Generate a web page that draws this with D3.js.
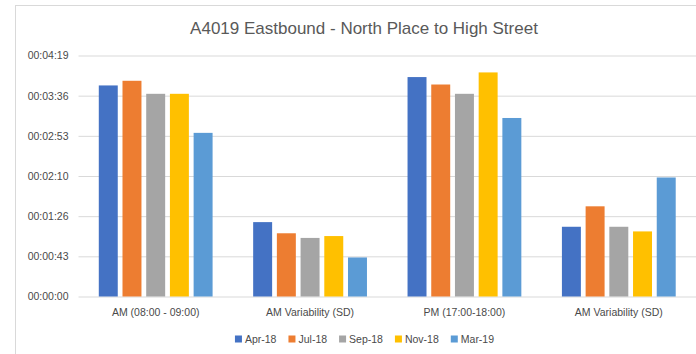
<!DOCTYPE html>
<html><head><meta charset="utf-8">
<script src="https://cdn.jsdelivr.net/npm/d3@7"></script>
<style>
html,body{margin:0;padding:0;background:#fff;}
svg{display:block;font-family:"Liberation Sans",Arial,sans-serif;}
</style></head>
<body><svg id="c" width="696" height="354"></svg>
<script>
const title = "A4019 Eastbound - North Place to High Street";
const categories = ["AM (08:00 - 09:00)", "AM Variability (SD)", "PM (17:00-18:00)", "AM Variability (SD)"];
const seriesNames = ["Apr-18", "Jul-18", "Sep-18", "Nov-18", "Mar-19"];
const colors = ["#4472C4", "#ED7D31", "#A5A5A5", "#FFC000", "#5B9BD5"];
// values in seconds, per series (one per category)
const apr18 = [227, 80, 236, 75];
const jul18 = [232, 68, 228, 97];
const sep18 = [218, 63, 218, 75];
const nov18 = [218, 65, 241, 70];
const mar19 = [176, 42, 192, 128];
const tickValues = [0, 43.2, 86.4, 129.6, 172.8, 216, 259.2];
const tickLabels = ["00:00:00", "00:00:43", "00:01:26", "00:02:10", "00:02:53", "00:03:36", "00:04:19"];

const seriesValues = [apr18, jul18, sep18, nov18, mar19];
const svg = d3.select("#c");
const textColor = "#4a4a4a";

// chart frame
svg.append("rect").attr("x", 15.5).attr("y", 5.5).attr("width", 700).attr("height", 360)
  .attr("fill", "none").attr("stroke", "#D9D9D9").attr("stroke-width", 1);

const plotLeft = 78.5, plotRight = 696, plotTop = 55.5, plotBottom = 296.5;
const y = d3.scaleLinear().domain([0, 259.2]).range([plotBottom, plotTop]);
const x0 = d3.scaleBand().domain(d3.range(categories.length)).range([plotLeft, plotRight]).padding(0);
const groupW = 113.8;
const x1 = d3.scaleBand().domain(d3.range(seriesNames.length)).range([0, groupW]).paddingInner(0.2).paddingOuter(0);

// title
svg.append("text").attr("x", 364).attr("y", 34).attr("text-anchor", "middle")
  .attr("font-size", 17).attr("fill", "#595959").text(title);

// y axis with gridlines
const yAxis = d3.axisLeft(y).tickValues(tickValues).tickFormat((d, i) => tickLabels[i])
  .tickSize(-(plotRight - plotLeft)).tickPadding(10);
const gy = svg.append("g").attr("transform", `translate(${plotLeft},0)`).call(yAxis);
gy.select(".domain").remove();
gy.selectAll(".tick line").attr("stroke", "#D9D9D9").attr("stroke-width", 1);
gy.selectAll(".tick text").attr("fill", textColor).attr("font-size", 10.5).attr("font-family", "Liberation Sans, Arial, sans-serif");

// bars
const groups = svg.append("g").selectAll("g").data(categories).join("g")
  .attr("transform", (d, i) => `translate(${x0(i) + (x0.bandwidth() - groupW) / 2},0)`);
groups.selectAll("rect").data((d, ci) => seriesValues.map((s, si) => ({si, v: s[ci]}))).join("rect")
  .attr("x", d => x1(d.si)).attr("width", x1.bandwidth())
  .attr("y", d => y(d.v)).attr("height", d => y(0) - y(d.v))
  .attr("fill", d => colors[d.si]);

// category labels
const xAxis = d3.axisBottom(x0).tickFormat(i => categories[i]).tickSize(0).tickPadding(12);
const gx = svg.append("g").attr("transform", `translate(0,${plotBottom})`).call(xAxis);
gx.select(".domain").remove();
gx.selectAll(".tick text").attr("fill", textColor).attr("font-size", 10.5).attr("font-family", "Liberation Sans, Arial, sans-serif");

// legend
const leg = svg.append("g");
let cx = 0;
seriesNames.forEach((n, i) => {
  const g = leg.append("g").attr("transform", `translate(${cx},0)`);
  g.append("rect").attr("x", 0).attr("y", -7).attr("width", 7).attr("height", 7).attr("fill", colors[i]);
  const t = g.append("text").attr("x", 10).attr("y", 0).attr("font-size", 10.5).attr("fill", textColor).text(n);
  cx += 10 + t.node().getComputedTextLength() + 12;
});
const legW = cx - 12;
leg.attr("transform", `translate(${364.5 - legW / 2},342.5)`);
</script></body></html>
